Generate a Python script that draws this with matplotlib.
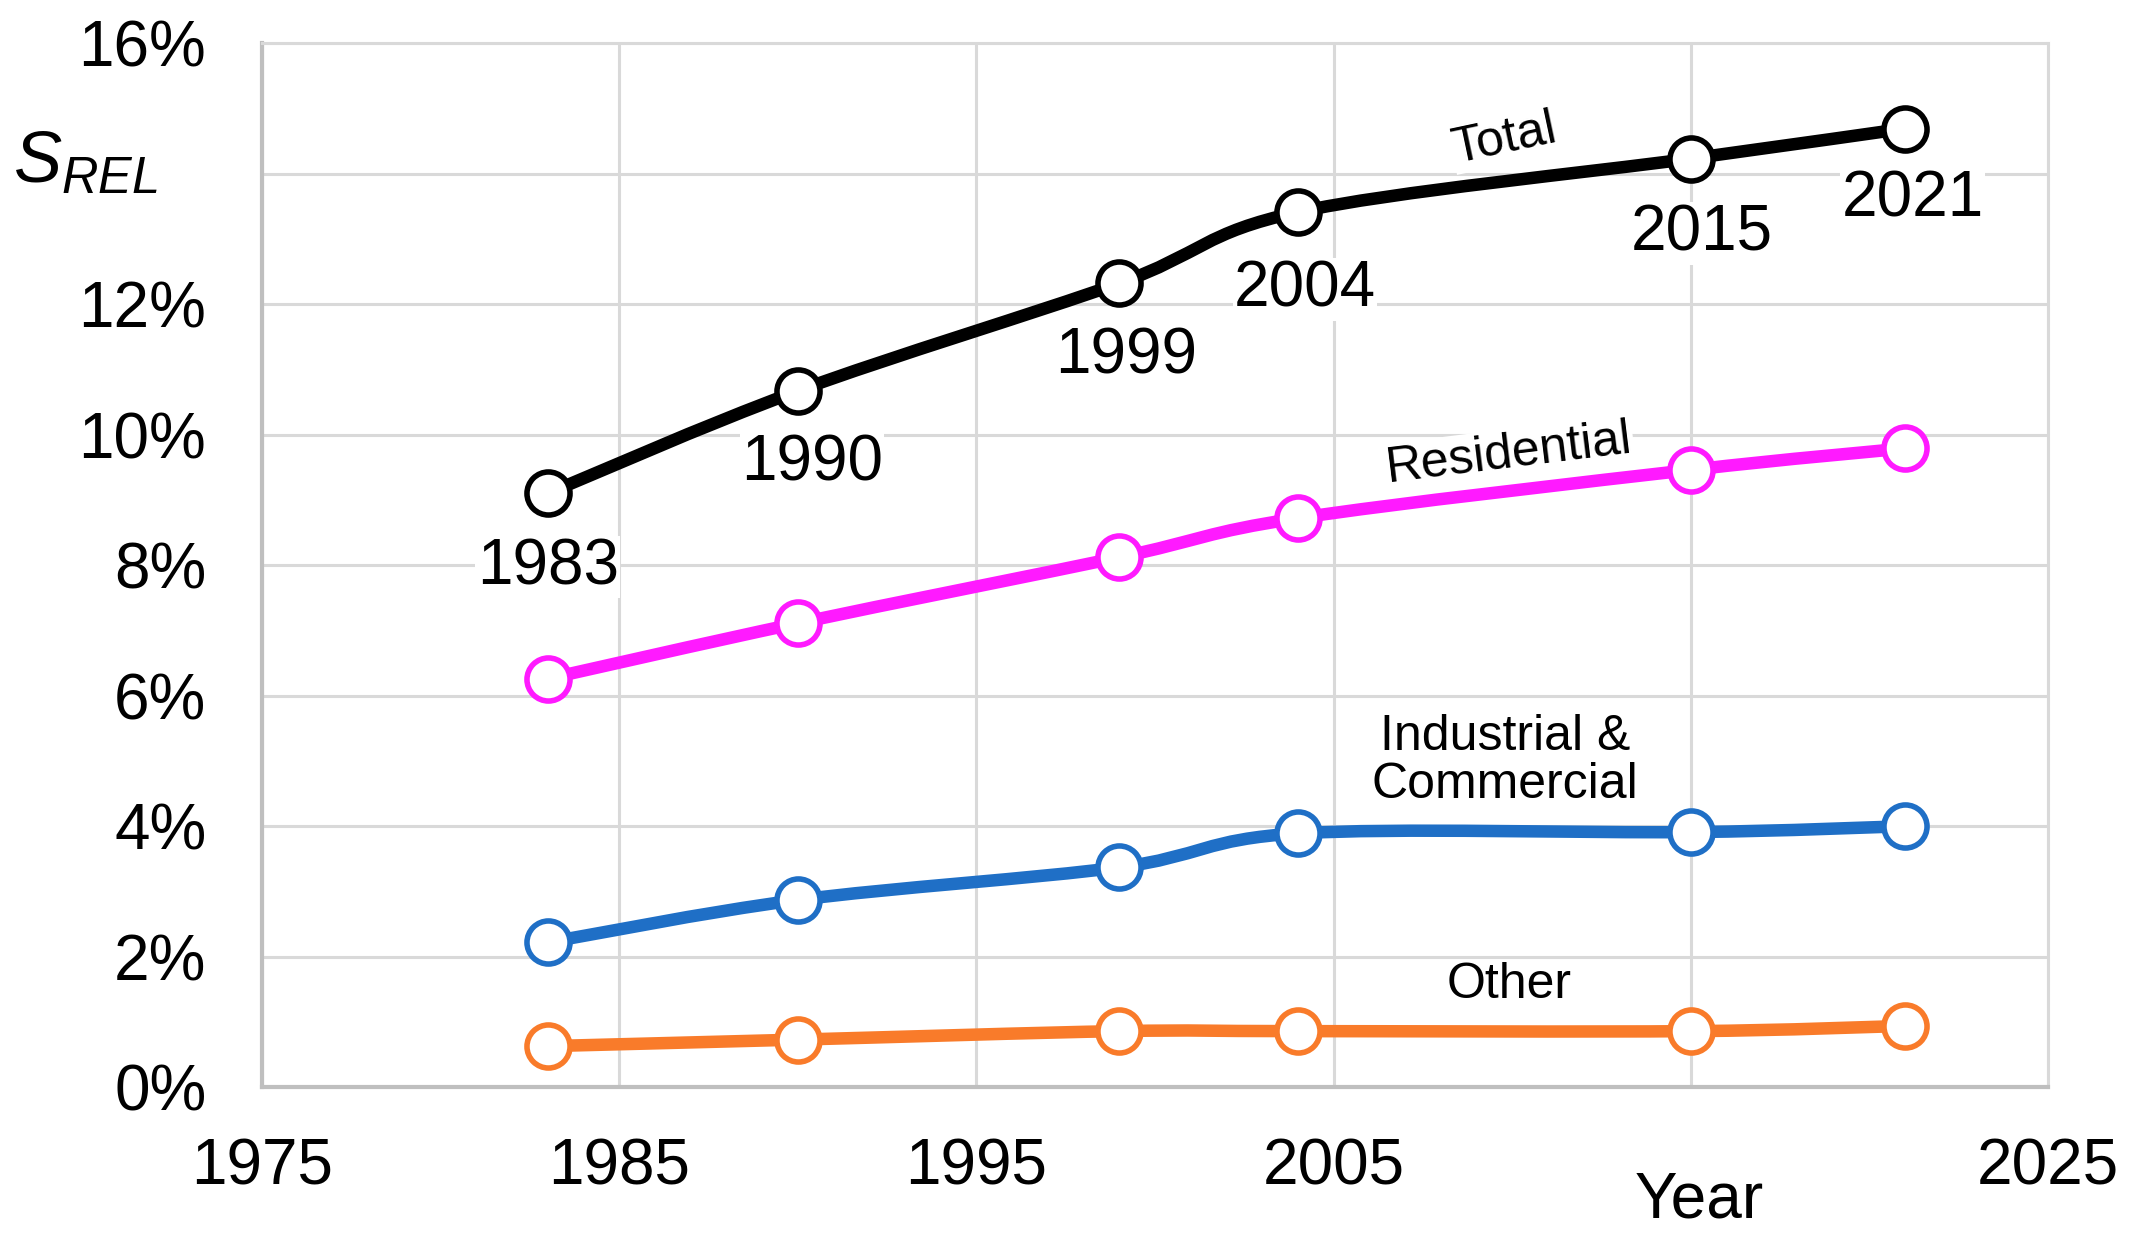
import matplotlib
matplotlib.use('Agg')
import matplotlib.pyplot as plt
from matplotlib.path import Path
from matplotlib.patches import PathPatch
from matplotlib.ticker import FixedLocator

years = [1983, 1990, 1999, 2004, 2015, 2021]
total = [9.10, 10.67, 12.32, 13.41, 14.23, 14.69]
residential = [6.26, 7.11, 8.12, 8.72, 9.46, 9.79]
industrial = [2.22, 2.87, 3.37, 3.89, 3.91, 4.00]
other = [0.63, 0.73, 0.86, 0.86, 0.86, 0.94]

series_names = ['Total', 'Residential', 'Industrial &\nCommercial', 'Other']
series_colors = ['#000000', '#ff1aff', '#1f6fc6', '#f97b2a']

x_ticks = [1975, 1985, 1995, 2005, 2015, 2025]
x_tick_labels = ['1975', '1985', '1995', '2005', '', '2025']
y_ticks = [0, 2, 4, 6, 8, 10, 12, 14, 16]
y_tick_labels = ['0%', '2%', '4%', '6%', '8%', '10%', '12%', '', '16%']

plt.rcParams['font.family'] = ['Liberation Sans', 'DejaVu Sans']
plt.rcParams['mathtext.fontset'] = 'custom'
plt.rcParams['mathtext.it'] = 'Liberation Sans:italic'
plt.rcParams['mathtext.rm'] = 'Liberation Sans'


def smooth_path(xs, ys):
    # excel-like smoothed line: cubic bezier through every point
    pts = list(zip(xs, ys))
    verts = [pts[0]]
    codes = [Path.MOVETO]
    n = len(pts)
    for i in range(n - 1):
        p0 = pts[i - 1] if i > 0 else pts[i]
        p1 = pts[i]
        p2 = pts[i + 1]
        p3 = pts[i + 2] if i + 2 < n else pts[i + 1]
        c1 = (p1[0] + (p2[0] - p0[0]) / 6, p1[1] + (p2[1] - p0[1]) / 6)
        c2 = (p2[0] - (p3[0] - p1[0]) / 6, p2[1] - (p3[1] - p1[1]) / 6)
        verts += [c1, c2, p2]
        codes += [Path.CURVE4] * 3
    return Path(verts, codes)


fig = plt.figure(figsize=(21.38, 12.44), dpi=100)
ax = fig.add_axes([0.1225, 0.126, 0.8355, 0.8394])

for values, color in zip([total, residential, industrial, other], series_colors):
    ax.add_patch(PathPatch(smooth_path(years, values), fill=False,
                           edgecolor=color, lw=9, capstyle='round', zorder=3))
    ax.plot(years, values, linestyle='none', marker='o', markersize=31,
            markerfacecolor='white', markeredgecolor=color, markeredgewidth=4,
            zorder=4)

ax.set_xlim(1975, 2025)
ax.set_ylim(0, 16)
ax.xaxis.set_major_locator(FixedLocator(x_ticks))
ax.set_xticklabels(x_tick_labels)
ax.yaxis.set_major_locator(FixedLocator(y_ticks))
ax.set_yticklabels(y_tick_labels)
ax.tick_params(length=0, labelsize=46)
ax.tick_params(axis='x', pad=36)
ax.tick_params(axis='y', pad=40)
ax.grid(True, color='#d9d9d9', lw=2.2, zorder=0)
ax.set_axisbelow(True)
for side in ['top', 'right']:
    ax.spines[side].set_color('#d9d9d9')
    ax.spines[side].set_linewidth(2.2)
for side in ['left', 'bottom']:
    ax.spines[side].set_color('#bfbfbf')
    ax.spines[side].set_linewidth(3)

# year labels on the total line
year_label_pos = [(1983.0, 7.97), (1990.4, 9.56), (1999.2, 11.19),
                  (2004.2, 12.22), (2015.3, 13.08), (2021.2, 13.60)]
for yr, (lx, ly) in zip(years, year_label_pos):
    ax.text(lx, ly, str(yr), fontsize=46, ha='center', va='center', zorder=5,
            bbox=dict(facecolor='white', edgecolor='none', pad=1))

# series labels
label_pos = [(2009.8, 14.52, 12), (2009.9, 9.71, 7), (2009.8, 5.0, 0), (2009.9, 1.57, 0)]
for name, (lx, ly, rot) in zip(series_names, label_pos):
    ax.text(lx, ly, name, fontsize=36, ha='center', va='center', rotation=rot,
            linespacing=1.05, zorder=5, rotation_mode='anchor',
            bbox=dict(facecolor='white', edgecolor='none', pad=1))

fig.text(0.040, 0.868, r'$S_{REL}$', fontsize=52, ha='center', va='center')
fig.text(0.795, 0.035, 'Year', fontsize=46, ha='center', va='center')

fig.savefig('out.png', dpi=100, facecolor='white')
